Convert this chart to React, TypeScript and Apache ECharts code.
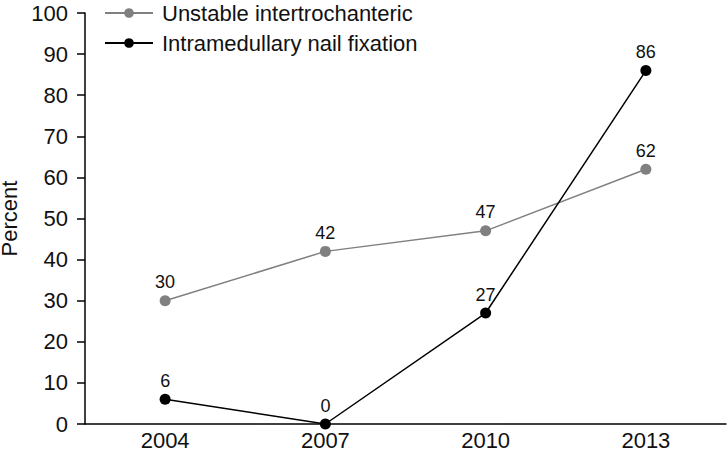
import React, { useEffect, useRef } from "react";
import * as echarts from "echarts";

const years = ["2004", "2007", "2010", "2013"];
const unstable = [30, 42, 47, 62];
const nailFixation = [6, 0, 27, 86];

export default function App() {
  const ref = useRef<HTMLDivElement>(null);
  useEffect(() => {
    if (!ref.current) return;
    const chart = echarts.init(ref.current, null, { renderer: "svg" });
    const font = "Liberation Sans, Arial, sans-serif";
    chart.setOption({
      animation: false,
      grid: { left: 85, right: 2, top: 13, bottom: 38, containLabel: false, outerBoundsMode: "none" },
      legend: {
        orient: "vertical",
        left: 99,
        top: -3,
        itemWidth: 48,
        itemHeight: 12,
        itemGap: 8,
        textStyle: { fontSize: 22, color: "#111", fontFamily: font, padding: [0, 0, 0, 4] },
        data: ["Unstable intertrochanteric", "Intramedullary nail fixation"],
      },
      xAxis: {
        type: "category",
        data: years,
        boundaryGap: true,
        axisLine: { lineStyle: { color: "#000", width: 1.5 } },
        axisTick: { show: true, interval: (i: number) => false, length: 6, lineStyle: { color: "#000", width: 1.5 } },
        axisLabel: { fontSize: 22, color: "#111", fontFamily: font, margin: 5 },
      },
      yAxis: {
        type: "value",
        min: 0,
        max: 100,
        interval: 10,
        name: "Percent",
        nameLocation: "middle",
        nameGap: 59,
        nameTextStyle: { fontSize: 22, color: "#111", fontFamily: font, lineHeight: 22 },
        splitLine: { show: false },
        axisLine: { show: true, lineStyle: { color: "#000", width: 1.5 } },
        axisTick: { show: true, length: 8, lineStyle: { color: "#000", width: 1.5 } },
        axisLabel: { fontSize: 22, color: "#111", fontFamily: font, margin: 17 },
      },
      series: [
        {
          name: "Unstable intertrochanteric",
          type: "line",
          data: unstable,
          symbol: "circle",
          symbolSize: 11,
          itemStyle: { color: "#808080" },
          lineStyle: { color: "#808080", width: 1.5 },
          label: { show: true, position: "top", distance: 4, fontSize: 18, color: "#111", fontFamily: font },
        },
        {
          name: "Intramedullary nail fixation",
          type: "line",
          data: nailFixation,
          symbol: "circle",
          symbolSize: 11,
          itemStyle: { color: "#000" },
          lineStyle: { color: "#000", width: 1.5 },
          label: { show: true, position: "top", distance: 4, fontSize: 18, color: "#111", fontFamily: font },
        },
      ],
    });
    return () => chart.dispose();
  }, []);
  return <div ref={ref} style={{ width: 728, height: 462, position: "absolute", left: 0, top: 0 }} />;
}
